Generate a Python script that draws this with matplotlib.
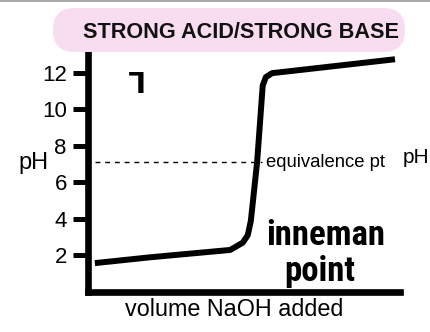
import matplotlib
matplotlib.use("Agg")
import matplotlib.pyplot as plt
from matplotlib.patches import FancyBboxPatch
from matplotlib.lines import Line2D

plt.rcParams['font.family'] = ['Liberation Sans', 'DejaVu Sans']

# ---- data ----
volume = [1.1, 10.0, 22.8, 24.8, 25.6, 26.1, 27.1, 28.0, 28.5, 29.5, 31.6, 49.2]
ph_values = [1.58, 1.9, 2.3, 2.7, 3.1, 3.9, 7.1, 11.3, 11.75, 11.97, 12.05, 12.73]
equiv_ph = 7.1
equiv_range = [1.1, 27.9]
yticks = [2, 4, 6, 8, 10, 12]
ytick_labels = ['2', '4', '6', '8', '10', '12']
title = "STRONG ACID/STRONG BASE"
xlabel = "volume NaOH added"
ylabel = "pH"
equiv_label = "equivalence pt"
hand_text = ["inneman", "point"]

W, H = 430, 332
fig = plt.figure(figsize=(W / 100, H / 100), dpi=100)

# top grey border line
fig.add_artist(Line2D([0, 1], [1 - 0.8 / H, 1 - 0.8 / H], transform=fig.transFigure,
                      color='#9a9a9a', lw=1.2))

# title pill
pill = FancyBboxPatch((53 / W, 1 - 52 / H), (405 - 53) / W, 44 / H,
                      boxstyle="round,pad=0,rounding_size=0.05",
                      transform=fig.transFigure, facecolor='#f8dcef',
                      edgecolor='none', mutation_aspect=W / H)
fig.add_artist(pill)
fig.text(241.5 / W, 1 - 32 / H, title, ha='center', va='center',
         fontsize=15.6, fontweight='bold', color='#111111')

ax = fig.add_axes([88 / W, 1 - 292 / H, (400 - 88) / W, (292 - 47) / H])
ax.set_facecolor('none')
ax.set_xlim(0, 50)
ax.set_ylim(0, 13.4)

for s in ['top', 'right']:
    ax.spines[s].set_visible(False)
for s in ['left', 'bottom']:
    ax.spines[s].set_linewidth(4.8)
    ax.spines[s].set_capstyle('projecting')

ax.set_xticks([])
ax.set_yticks(yticks)
ax.set_yticklabels(ytick_labels, fontsize=16)
ax.tick_params(axis='y', length=11, width=3.6, pad=4.3, direction='out')

ax.plot(volume, ph_values, color='black', lw=4.3, solid_joinstyle='round',
        solid_capstyle='butt')
ax.plot(equiv_range, [equiv_ph, equiv_ph], color='black', lw=1.0,
        linestyle=(0, (3.5, 3.5)))

ax.text(28.6, equiv_ph, equiv_label, ha='left', va='center', fontsize=13.3)
fig.text(403 / W, 1 - 158 / H, ylabel, ha='left', va='center', fontsize=15)
fig.text(33 / W, 1 - 163 / H, ylabel, ha='center', va='center', fontsize=17)
fig.text(234 / W, 1 - 310 / H, xlabel, ha='center', va='center', fontsize=16.8)

# small corner mark
fig.text(133 / W, 1 - 78 / H, "L", ha='center', va='center', rotation=180,
         rotation_mode='anchor', fontsize=20, fontweight='bold',
         family='DejaVu Sans')

# handwritten note
hand_font = ['Roboto Condensed', 'Roboto', 'DejaVu Sans']
fig.text(326 / W, 1 - 245 / H, hand_text[0], ha='center', va='baseline',
         fontsize=25, fontweight='black', family=hand_font)
fig.text(320 / W, 1 - 281 / H, hand_text[1], ha='center', va='baseline',
         fontsize=25, fontweight='black', family=hand_font)

fig.savefig('out.png', dpi=100)
